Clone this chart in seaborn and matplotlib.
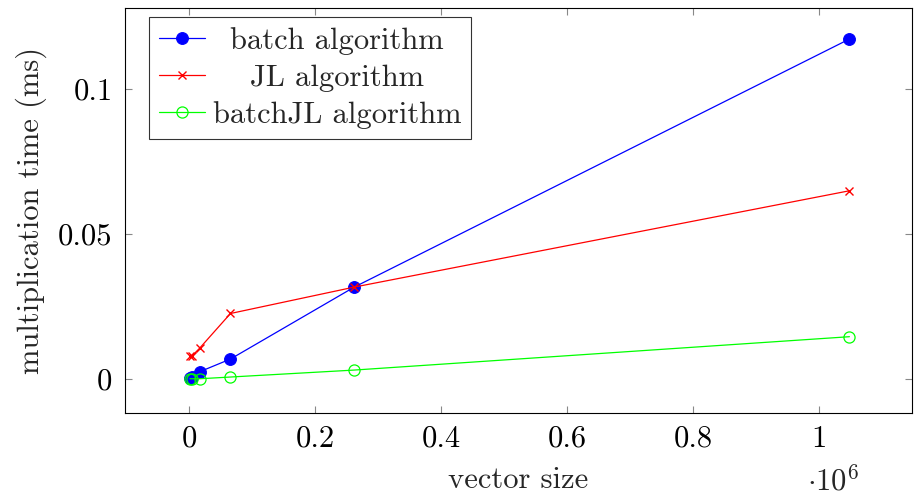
import matplotlib
matplotlib.use('Agg')
import matplotlib.pyplot as plt
import pandas as pd
import seaborn as sns
from matplotlib.ticker import FuncFormatter
from matplotlib.transforms import Affine2D

# данные
vector_size = [1024, 4096, 16384, 65536, 262144, 1048576]
batch_time = [0.0002, 0.0006, 0.0025, 0.0069, 0.0317, 0.1172]
jl_time = [0.0079, 0.0079, 0.0106, 0.0226, 0.0317, 0.0649]
batchjl_time = [0.0001, 0.0001, 0.0001, 0.0007, 0.0031, 0.0146]

series_names = ['batch algorithm', 'JL algorithm', 'batchJL algorithm']
x_ticks = [0, 2e5, 4e5, 6e5, 8e5, 1e6]
y_ticks = [0, 0.05, 0.1]

FS = 22

sns.set_style('ticks')
plt.rcParams['font.family'] = 'serif'
plt.rcParams['font.serif'] = ['cmr10', 'DejaVu Serif']
plt.rcParams['mathtext.fontset'] = 'cm'
plt.rcParams['axes.unicode_minus'] = False

fig = plt.figure(figsize=(9.14, 4.96), dpi=100)
ax = fig.add_axes([125 / 914, 1 - 413 / 496, (912 - 125) / 914, (413 - 8) / 496])

df = pd.DataFrame({'size': vector_size, 'batch': batch_time,
                   'jl': jl_time, 'batchjl': batchjl_time})

sns.lineplot(data=df, x='size', y='batch', ax=ax, color='#0000ff', lw=0.9,
             marker='o', markersize=8.5, markeredgecolor='#0000ff',
             markerfacecolor='#0000ff', label=series_names[0])
sns.lineplot(data=df, x='size', y='jl', ax=ax, color='#ff0000', lw=0.9,
             marker='x', markersize=6, markeredgecolor='#ff0000',
             markeredgewidth=1.0, label=series_names[1])
sns.lineplot(data=df, x='size', y='batchjl', ax=ax, color='#00ff00', lw=0.9,
             marker='o', markersize=8, markeredgecolor='#00ff00',
             markerfacecolor='none', markeredgewidth=0.9, label=series_names[2])

ax.set_xlim(-0.102e6, 1.148e6)
ax.set_ylim(-0.0117, 0.1279)
ax.set_xticks(x_ticks)
ax.set_yticks(y_ticks)
ax.xaxis.set_major_formatter(FuncFormatter(lambda v, p: '%g' % round(v / 1e6, 2)))
ax.yaxis.set_major_formatter(FuncFormatter(lambda v, p: '%g' % round(v, 3)))

ax.tick_params(direction='in', top=True, right=True, length=5, width=0.8,
               color='#888888', labelcolor='black', labelsize=FS, pad=9)
for s in ax.spines.values():
    s.set_linewidth(0.8)
    s.set_color('black')

ax.set_xlabel('vector size', fontsize=FS, labelpad=10)
ax.set_ylabel('multiplication time (ms)', fontsize=FS, labelpad=8)
ax.text(1.022e6, -0.0349, r'$\cdot 10^6$', fontsize=FS, ha='center', va='center')

leg = ax.legend(loc='upper left', bbox_to_anchor=(0.0305, 0.978), fontsize=FS,
                frameon=True, fancybox=False, edgecolor='black',
                handlelength=1.5, handletextpad=0.26, borderpad=0.32,
                labelspacing=0.31, borderaxespad=0)
leg.get_frame().set_linewidth(0.8)

# центрируем подписи легенды, как в pgfplots
fig.canvas.draw()
renderer = fig.canvas.get_renderer()
widths = [t.get_window_extent(renderer).width for t in leg.get_texts()]
for t, w in zip(leg.get_texts(), widths):
    dx = (max(widths) - w) / 2
    t.set_transform(Affine2D().translate(dx, 0) + t.get_transform())

fig.savefig('out.png', dpi=100)
